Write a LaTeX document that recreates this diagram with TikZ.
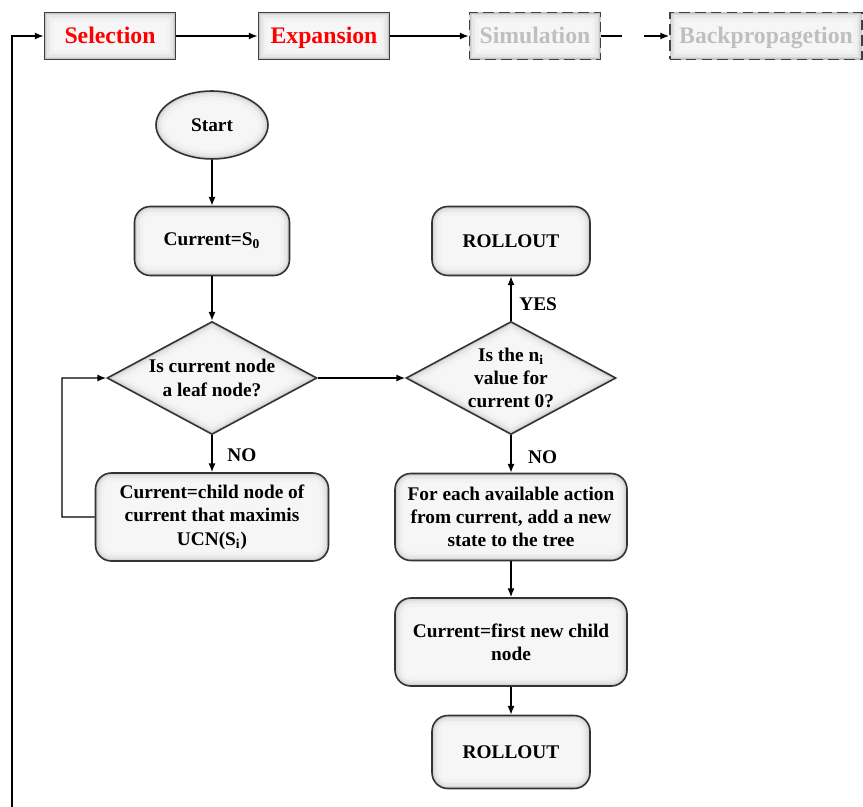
\documentclass[tikz,border=0pt]{standalone}
\usepackage{fontspec}
\setmainfont{Liberation Serif}
\usetikzlibrary{positioning}
\usetikzlibrary{shapes.geometric}
\usetikzlibrary{arrows.meta}
\newcommand{\Sub}[1]{\textsubscript{#1}}
\tikzset{
  rim/.style={path picture={\foreach \lw/\tone in {10pt/10,6pt/18,3pt/30,1.4pt/45}{\draw[solid, line width=\lw, gray!\tone, rounded corners=#1] (path picture bounding box.south west) rectangle (path picture bounding box.north east);}}},
  rimd/.style={path picture={\foreach \lw/\tone in {10pt/10,6pt/18,3pt/30,1.4pt/45}{\draw[solid, line width=\lw, gray!\tone] (path picture bounding box.west) -- (path picture bounding box.north) -- (path picture bounding box.east) -- (path picture bounding box.south) -- cycle;}}},
  rime/.style={path picture={\foreach \lw/\tone in {10pt/10,6pt/18,3pt/30,1.4pt/45}{\draw[solid, line width=\lw, gray!\tone] (path picture bounding box.center) ellipse (1.12cm and 0.68cm);}}}
}
\tikzstyle{box} = [rectangle, rounded corners=9pt, draw=black!80, line width=0.9pt, fill=gray!7, rim=9pt, align=center, inner sep=2pt, font=\fontsize{11}{13.3}\selectfont\bfseries]
\tikzstyle{stage} = [rectangle, draw=black!75, line width=1pt, fill=gray!7, rim=0pt, minimum width=2.62cm, minimum height=0.94cm, inner sep=1pt, text height=10pt, text depth=1pt, font=\fontsize{13.5}{14}\selectfont\bfseries, text=red]
\tikzstyle{ghost} = [stage, dash pattern=on 6pt off 3pt, text=gray!50]
\tikzstyle{test} = [diamond, draw=black!80, line width=0.9pt, fill=gray!7, rimd, align=center, inner sep=-8pt, minimum width=4.2cm, minimum height=2.26cm, font=\fontsize{11}{13.3}\selectfont\bfseries]
\tikzstyle{arr} = [-{Latex[length=5pt,width=4pt]}, line width=0.8pt]

\begin{document}
\begin{tikzpicture}[x=0.2mm, y=-0.2mm, node distance=2cm, on grid, tag/.style={font=\fontsize{11}{13}\selectfont\bfseries}]
\useasboundingbox (0,0) rectangle (863,807);

% Stages
\node[stage]                              (sel)  at (110,36) {Selection};
\node[stage, right = 4.28cm of sel]       (exp)  {Expansion};
\node[ghost, right = 4.22cm of exp]       (sim)  {Simulation};
\node[ghost, right = 4.62cm of sim, minimum width=3.84cm] (bp) {Backpropagetion};

% Define nodes
\node[box, ellipse, rounded corners=0pt, rime, minimum width=2.24cm, minimum height=1.36cm] (start) at (212,125) {Start};
\node[box, below = 2.32cm of start, minimum width=3.1cm, minimum height=1.38cm]  (cur)   {Current=S\Sub{0}};
\node[test, below = 2.74cm of cur]                                              (leaf)  {Is current node\\a leaf node?};
\node[box, below = 2.78cm of leaf, minimum width=4.66cm, minimum height=1.76cm] (child) {Current=child node of\\current that maximis\\UCN(S\Sub{i})};

\node[test, right = 5.98cm of leaf]                                             (ni)    {Is the n\Sub{i}\\value for\\current 0?};
\node[box, above = 2.74cm of ni, minimum width=3.16cm, minimum height=1.38cm]   (roll)  {ROLLOUT};
\node[box, below = 2.78cm of ni, minimum width=4.64cm, minimum height=1.74cm]   (each)  {For each available action\\from current, add a new\\state to the tree};
\node[box, below = 2.5cm of each, minimum width=4.64cm, minimum height=1.76cm]  (first) {Current=first new child\\node};
\node[box, below = 2.2cm of first, minimum width=3.16cm, minimum height=1.46cm] (rolltwo) {ROLLOUT};

\coordinate (back) at (12,807);
\coordinate (loop) at (62,517);
\coordinate (out)  at (863,36);

% Edges
\draw[arr] (back) |- (sel.west);
\draw[arr] (sel) -- (exp);
\draw[arr] (exp) -- (sim);
\draw[arr, dash pattern=on 12pt off 12pt] (sim) -- (bp);
\draw[line width=0.8pt] (bp.east) -- (out);

\draw[arr] (start) -- (cur);
\draw[arr] (cur) -- (leaf);
\draw[arr] (leaf) -- node[tag, right=5pt, yshift=-1pt] {NO} (child);
\draw[arr] (child.west) -- (loop) |- (leaf.west);
\draw[arr] (leaf) -- (ni);
\draw[arr] (ni) -- node[tag, right=1pt, yshift=-3pt] {YES} (roll);
\draw[arr] (ni) -- node[tag, right=6pt, yshift=-2pt] {NO} (each);
\draw[arr] (each) -- (first);
\draw[arr] (first) -- (rolltwo);
\end{tikzpicture}
\end{document}
